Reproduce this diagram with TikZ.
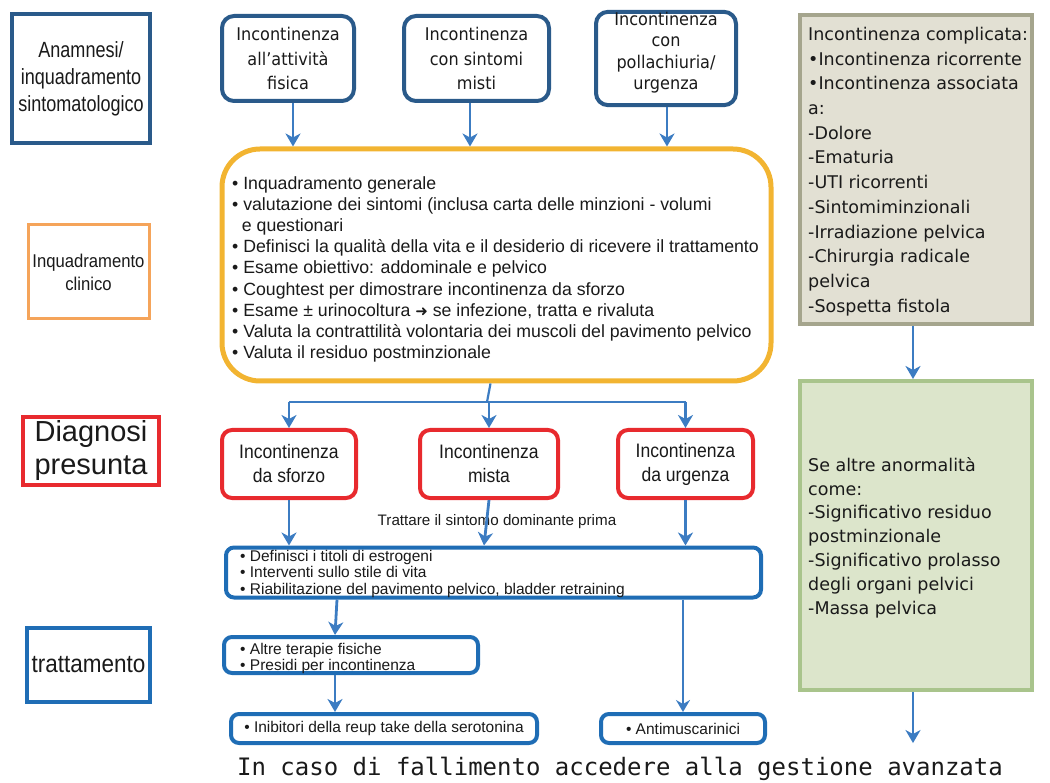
\documentclass[tikz,border=0pt]{standalone}
\usepackage{fontspec}
\setmainfont{Liberation Sans}
\newfontfamily\topfont[FakeStretch=0.92]{DejaVu Sans}
\newfontfamily\sidefont{DejaVu Sans}
\newfontfamily\condfont[FakeStretch=0.82]{Liberation Sans}
\newfontfamily\semicond[FakeStretch=0.9]{Liberation Sans}
\newfontfamily\bottomfont{DejaVu Sans Mono}
\usetikzlibrary{arrows.meta}

\definecolor{navy}{HTML}{2A5A8A}
\definecolor{yelb}{HTML}{F2B431}
\definecolor{orangeb}{HTML}{F5A45A}
\definecolor{redb}{HTML}{E82A2E}
\definecolor{blueb}{HTML}{1F6DB5}
\definecolor{arrowc}{HTML}{3C7CC2}
\definecolor{grayfill}{HTML}{E2E0D3}
\definecolor{grayline}{HTML}{A5A58D}
\definecolor{greenfill}{HTML}{DCE5CB}
\definecolor{greenline}{HTML}{A9C48C}
\definecolor{ink}{HTML}{1A1A1A}

\tikzset{
  box/.style={inner sep=0pt, fill=white, text=ink, align=center},
  labelbox/.style={box},
  topbox/.style={box, draw=navy, line width=4pt, rounded corners=12pt,
    font=\topfont\fontsize{17.5}{24.5}\selectfont},
  redbox/.style={box, draw=redb, line width=4pt, rounded corners=10pt,
    font=\semicond\fontsize{19.5}{24}\selectfont},
  treatbox/.style={box, draw=blueb, line width=4pt, rounded corners=8pt,
    font=\fontsize{15.5}{16.5}\selectfont},
  listtext/.style={inner sep=0pt, anchor=north west, align=left, text=ink},
  conn/.style={draw=arrowc, line width=2.2pt},
  arr/.style={draw=arrowc, line width=2.8pt, -{Stealth[length=13pt,width=15pt,inset=4pt]}},
  thinarr/.style={draw=arrowc, line width=1.6pt, -{Stealth[length=12pt,width=14pt,inset=4pt]}}
}

\begin{document}
\begin{tikzpicture}[x=1pt,y=-1pt]
\useasboundingbox (0,0) rectangle (1050,783);

% left-hand column of stage labels
\node[labelbox, draw=navy, line width=4pt, minimum width=138, minimum height=129,
  font=\condfont\fontsize{22}{27}\selectfont] (anam) at (81,78.5)
  {Anamnesi/\\inquadramento\\sintomatologico};
\node[labelbox, draw=orangeb, line width=3pt, minimum width=121, minimum height=94,
  font=\semicond\fontsize{18.5}{23}\selectfont] (clin) at (88.5,272)
  {Inquadramento\\clinico};
\node[labelbox, draw=redb, line width=4pt, minimum width=136, minimum height=68,
  font=\fontsize{29}{33}\selectfont] (diag) at (91,451)
  {Diagnosi\\presunta};
\node[labelbox, draw=blueb, line width=3.5pt, minimum width=123, minimum height=74,
  font=\semicond\fontsize{25}{28}\selectfont] (tratt) at (88.5,665)
  {trattamento};

% symptom boxes
\node[topbox, minimum width=132, minimum height=85] (t1) at (288,58.5)
  {Incontinenza\\all’attività\\fisica};
\node[topbox, minimum width=145, minimum height=85] (t2) at (476.5,58.5)
  {Incontinenza\\con sintomi\\misti};
\node[topbox, minimum width=140, minimum height=85,
  font=\topfont\fontsize{17.5}{21.5}\selectfont] (t3) at (666,58.5)
  {Incontinenza\\con\\pollachiuria/\\urgenza\\[-6pt]\mbox{}};

% clinical assessment
\node[box, draw=yelb, line width=5pt, rounded corners=38pt,
  minimum width=549, minimum height=232] (yel) at (496.5,265) {};
\node[listtext, font=\fontsize{17.7}{21.2}\selectfont] (ytext) at (232,176)
  {• Inquadramento generale\\
   • valutazione dei sintomi (inclusa carta delle minzioni - volumi\\
   \hspace*{0.55em}e questionari\\
   • Definisci la qualità della vita e il desiderio di ricevere il trattamento\\
   • Esame obiettivo: addominale e pelvico\\
   • Coughtest per dimostrare incontinenza da sforzo\\
   • Esame ± urinocoltura {\sidefont\fontsize{15}{15}\selectfont ➜} se infezione, tratta e rivaluta\\
   • Valuta la contrattilità volontaria dei muscoli del pavimento pelvico\\
   • Valuta il residuo postminzionale};

% complicated incontinence column
\node[box, fill=grayfill, draw=grayline, line width=4pt,
  minimum width=232, minimum height=309] (cx) at (916,169.5) {};
\node[listtext, font=\sidefont\fontsize{17.5}{24.7}\selectfont] (cxtext) at (808,27)
  {Incontinenza complicata:\\
   •Incontinenza ricorrente\\
   •Incontinenza associata\\
   a:\\
   -Dolore\\
   -Ematuria\\
   -UTI ricorrenti\\
   -Sintomiminzionali\\
   -Irradiazione pelvica\\
   -Chirurgia radicale\\
   pelvica\\
   -Sospetta fistola};
\node[box, fill=greenfill, draw=greenline, line width=4pt,
  minimum width=232, minimum height=309] (ab) at (916,535.5) {};
\node[listtext, font=\sidefont\fontsize{17.5}{23.9}\selectfont] (abtext) at (808,457)
  {Se altre anormalità\\
   come:\\
   -Significativo residuo\\
   postminzionale\\
   -Significativo prolasso\\
   degli organi pelvici\\
   -Massa pelvica};

% presumed diagnosis
\node[redbox, minimum width=134, minimum height=68] (r1) at (289,464)
  {Incontinenza\\da sforzo};
\node[redbox, minimum width=138, minimum height=68] (r2) at (489,464)
  {Incontinenza\\mista};
\node[redbox, minimum width=135, minimum height=68] (r3) at (685.5,464)
  {Incontinenza\\da urgenza};
\node[inner sep=0pt, text=ink, font=\fontsize{15.2}{16}\selectfont] (dom) at (497,522)
  {Trattare il sintomo dominante prima};

% treatment boxes
\node[treatbox, minimum width=535, minimum height=50] (b1) at (493.5,572.5) {};
\node[listtext, font=\fontsize{15.5}{16.5}\selectfont] (b1text) at (240,550)
  {• Definisci i titoli di estrogeni\\
   • Interventi sullo stile di vita\\
   • Riabilitazione del pavimento pelvico, bladder retraining};
\node[treatbox, minimum width=254, minimum height=36] (b2) at (351,655) {};
\node[listtext, font=\fontsize{15.5}{16}\selectfont] (b2text) at (240,643)
  {• Altre terapie fisiche\\
   • Presidi per incontinenza};
\node[treatbox, minimum width=306, minimum height=29] (b3) at (384,728.5)
  {• Inibitori della reup take della serotonina};
\node[treatbox, minimum width=164, minimum height=29] (b4) at (683,728.5)
  {• Antimuscarinici};

\node[inner sep=0pt, text=ink, font=\bottomfont\fontsize{24}{28}\selectfont] (fail)
  at (620,769) {In caso di fallimento accedere alla gestione avanzata};

% connectors
\draw[arr] (t1.south -| 293,0) -- (293,0 |- yel.north);
\draw[arr] (t2.south -| 470,0) -- (470,0 |- yel.north);
\draw[arr] (t3.south -| 667,0) -- (667,0 |- yel.north);

\coordinate (jn) at (487,402);
\draw[conn] ([xshift=-6pt]yel.south) -- (jn);
\draw[conn] (r1.north |- jn) -- (r3.north |- jn);
\draw[arr] (r1.north |- jn) -- (r1.north);
\draw[arr] (r2.north |- jn) -- (r2.north);
\draw[arr] (r3.north |- jn) -- (r3.north);

\draw[arr] (r1.south) -- (r1.south |- b1.north);
\draw[arr] (r2.south) -- ([xshift=-5pt]r2.south |- b1.north);
\draw[arr] (r3.south) -- (r3.south |- b1.north);

\draw[arr] ([xshift=113pt]b1.south west |- b1.south) -- ([xshift=113pt]b2.north west);
\draw[arr] ([xshift=113pt]b2.south west) -- ([xshift=113pt]b2.south west |- b3.north);
\draw[thinarr] (b4.north |- b1.south) -- (b4.north);

\draw[arr] (cx.south -| 913,0) -- (913,0 |- ab.north);
\draw[arr] (ab.south -| 913,0) -- ([yshift=14pt]fail.north -| 913,0);
\end{tikzpicture}
\end{document}
